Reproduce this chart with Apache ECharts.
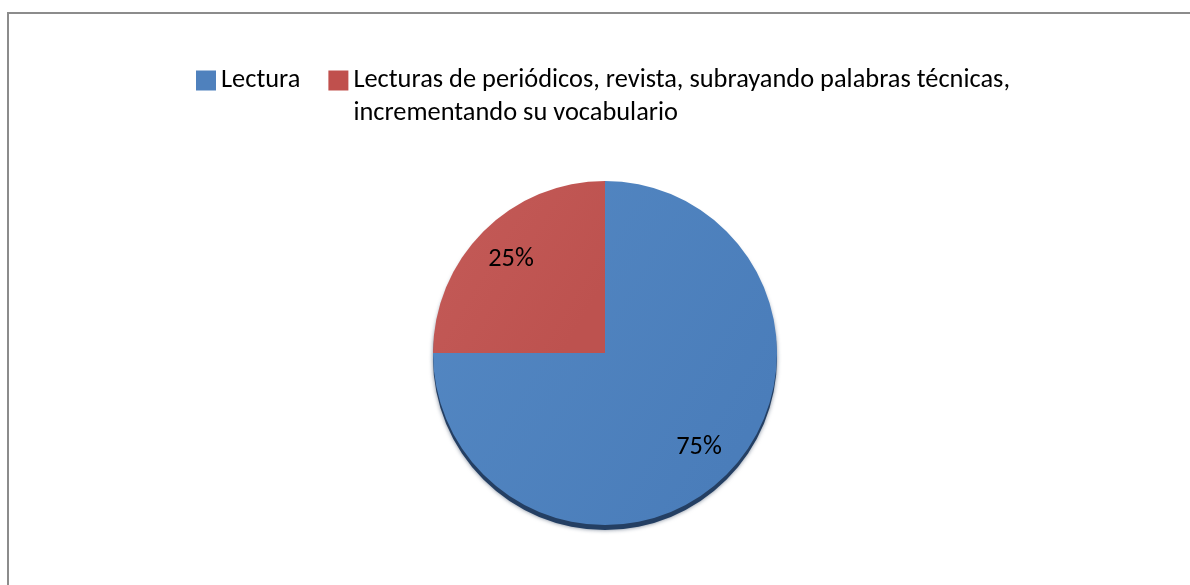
<!DOCTYPE html>
<html>
<head>
<meta charset="utf-8">
<script src="https://cdn.jsdelivr.net/npm/echarts@6/dist/echarts.min.js"></script>
<style>
  html, body { margin: 0; padding: 0; background: #fff; }
  #chart { width: 1190px; height: 585px; }
</style>
</head>
<body>
<div id="chart"></div>
<script>
// data
const categories = ['Lectura', 'Lecturas de periódicos, revista, subrayando palabras técnicas, incrementando su vocabulario']
const values = [75, 25]
const colors = ['#4A7DBA', '#BD524F']
const colorsLight = ['#5488C3', '#C45B58']
const legendColors = ['#4F81BD', '#C0504D']

const font = 'Carlito, Lato, "Liberation Sans", sans-serif'
const pieCenter = [605, 353]
const pieRadius = 172

const chart = echarts.init(document.getElementById('chart'))

const pieData = categories.map((name, i) => ({
  name,
  value: values[i],
  itemStyle: {
    color: {
      type: 'linear', x: 0, y: 0, x2: 1, y2: 0.6,
      colorStops: [{ offset: 0, color: colorsLight[i] }, { offset: 1, color: colors[i] }],
      global: false,
    },
  },
}))

chart.setOption({
  animation: false,
  backgroundColor: '#fff',
  graphic: [{
    type: 'rect',
    shape: { x: 8, y: 13, width: 1300, height: 700 },
    style: { fill: 'none', stroke: '#8c8c8c', lineWidth: 2 },
    silent: true,
  }],
  legend: {
    left: 191,
    top: 26,
    itemWidth: 20,
    itemHeight: 20,
    itemGap: 28,
    itemTextGap: 6,
    icon: 'rect',
    textStyle: { fontFamily: font, fontSize: 26.4, color: '#000', lineHeight: 33 },
    // second entry wraps; a blank leading line keeps its first line level with the icon
    formatter: name => name.includes('técnicas, ') ? '\n' + name.replace('técnicas, ', 'técnicas,\n') : name,
    data: categories.map((name, i) => ({ name, itemStyle: { color: legendColors[i] } })),
  },
  series: [
    {
      type: 'pie',
      z: 2,
      center: pieCenter,
      radius: pieRadius,
      startAngle: 90,
      clockwise: true,
      data: pieData,
      label: { show: false },
      labelLine: { show: false },
      emphasis: { disabled: true },
    },
    {
      // dark rim under the pie
      type: 'pie',
      z: 1,
      center: [pieCenter[0], pieCenter[1] + 5],
      radius: pieRadius,
      startAngle: 90,
      silent: true,
      data: categories.map((name, i) => ({ name, value: values[i] })),
      itemStyle: { color: '#243f63', shadowColor: 'rgba(30,50,80,0.6)', shadowBlur: 4 },
      label: { show: false },
      labelLine: { show: false },
      emphasis: { disabled: true },
    },
    {
      // label layer
      type: 'pie',
      z: 3,
      center: pieCenter,
      radius: [88, pieRadius],
      startAngle: 90,
      clockwise: true,
      silent: true,
      data: categories.map((name, i) => ({ name, value: values[i] })),
      itemStyle: { color: 'transparent' },
      label: {
        show: true,
        position: 'inside',
        formatter: '{d}%',
        fontFamily: font,
        fontSize: 26.4,
        color: '#000',
      },
      labelLine: { show: false },
      emphasis: { disabled: true },
    },
  ],
})
</script>
</body>
</html>
